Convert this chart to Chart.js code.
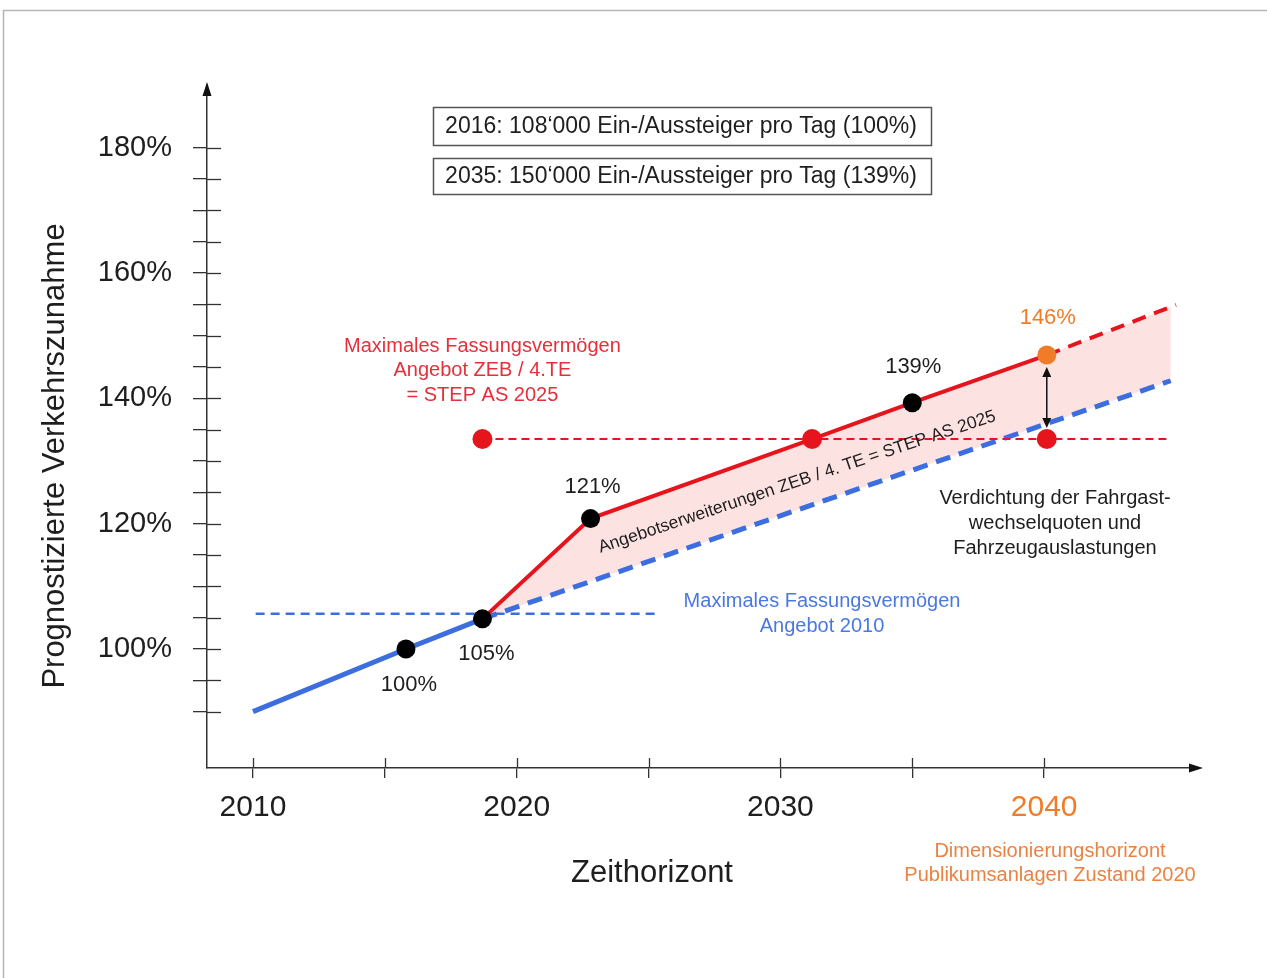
<!DOCTYPE html>
<html><head><meta charset="utf-8">
<script src="https://cdn.jsdelivr.net/npm/chart.js@4.4.1/dist/chart.umd.min.js"></script>
<style>html,body{margin:0;padding:0;background:#fff;overflow:hidden}canvas{display:block}</style>
</head><body><canvas id="c" width="1267" height="978"></canvas>
<script>
// ---- axis ticks ----
const tickYears = [2010, 2015, 2020, 2025, 2030, 2035, 2040];
const labelledYears = [2010, 2020, 2030, 2040];
const tickPercents = [90, 95, 100, 105, 110, 115, 120, 125, 130, 135, 140, 145, 150, 155, 160, 165, 170, 175, 180];
const labelledPercents = [100, 120, 140, 160, 180];

// ---- series ----
const observedYears = [2010, 2015.8, 2018.7];
const observedValues = [90, 100, 104.8];
const baselineYears = [2018.7, 2044.8];
const baselineValues = [104.8, 142.8];
const capacity2010Years = [2010.1, 2025.3];
const capacity2010Values = [105.6, 105.6];
const forecastYears = [2018.7, 2022.8, 2031.2, 2035.0, 2040.1, 2045.0];
const forecastValues = [104.8, 120.8, 133.5, 139.3, 146.9, 154.9];
const capacityZebYears = [2018.7, 2031.2, 2040.1, 2044.8];
const capacityZebValues = [133.5, 133.5, 133.5, 133.5];
const pointLabels = ['100%', '105%', '121%', '139%', '146%'];

const FONT = "'Liberation Sans', Arial, Helvetica, sans-serif";
const BLUE = '#3d6ee0', RED = '#e5141d', ORANGE = '#f07c28', PINK = '#fde2e2', INK = '#1e1e1e';
const xy = (xs, ys) => xs.map((v, i) => ({x: v, y: ys[i]}));

function txt(c, s, x, y, size, color, align = 'center', base = 'middle') {
  c.font = size + 'px ' + FONT; c.fillStyle = color; c.textAlign = align; c.textBaseline = base;
  c.fillText(s, x, y);
}

const decor = {
  id: 'decor',
  beforeDraw(chart) {
    const c = chart.ctx;
    c.save();
    c.fillStyle = '#fff'; c.fillRect(0, 0, chart.width, chart.height);
    c.strokeStyle = '#b5b5b5'; c.lineWidth = 1.5;
    c.strokeRect(3.5, 10.5, chart.width + 20, chart.height + 20);
    c.restore();
  },
  afterDraw(chart) {
    const c = chart.ctx, X = chart.scales.x, Y = chart.scales.y, a = chart.chartArea;
    c.save();
    // inward tick parts
    c.strokeStyle = '#333'; c.lineWidth = 1.3;
    tickPercents.forEach(v => { const p = Math.round(Y.getPixelForValue(v)) + 0.5; c.beginPath(); c.moveTo(a.left, p); c.lineTo(a.left + 14, p); c.stroke(); });
    tickYears.forEach(v => { const p = Math.round(X.getPixelForValue(v)) + 0.5; c.beginPath(); c.moveTo(p, a.bottom); c.lineTo(p, a.bottom - 10); c.stroke(); });
    // axis arrows
    c.fillStyle = '#111';
    c.beginPath(); c.moveTo(a.left, a.top - 3); c.lineTo(a.left - 4.5, a.top + 11); c.lineTo(a.left + 4.5, a.top + 11); c.closePath(); c.fill();
    c.beginPath(); c.moveTo(a.right + 3, a.bottom); c.lineTo(a.right - 11, a.bottom - 4.5); c.lineTo(a.right - 11, a.bottom + 4.5); c.closePath(); c.fill();

    // double arrow 2040
    const ax = X.getPixelForValue(forecastYears[4]);
    const yT = Y.getPixelForValue(forecastValues[4]) + 12;
    const yB = Y.getPixelForValue(capacityZebValues[2]) - 11;
    c.strokeStyle = '#111'; c.lineWidth = 1.5;
    c.beginPath(); c.moveTo(ax, yT + 6); c.lineTo(ax, yB - 6); c.stroke();
    c.beginPath(); c.moveTo(ax, yT); c.lineTo(ax - 4.5, yT + 10); c.lineTo(ax + 4.5, yT + 10); c.closePath(); c.fill();
    c.beginPath(); c.moveTo(ax, yB); c.lineTo(ax - 4.5, yB - 10); c.lineTo(ax + 4.5, yB - 10); c.closePath(); c.fill();

    // info boxes
    c.strokeStyle = '#555'; c.lineWidth = 1.5;
    c.strokeRect(433.5, 107.5, 498, 38);
    c.strokeRect(433.5, 158.5, 498, 36);
    txt(c, '2016: 108‘000 Ein-/Aussteiger pro Tag (100%)', 681, 127, 23, INK);
    txt(c, '2035: 150‘000 Ein-/Aussteiger pro Tag (139%)', 681, 177, 23, INK);

    // point labels
    const px = (i, xs, ys) => [X.getPixelForValue(xs[i]), Y.getPixelForValue(ys[i])];
    let p;
    p = px(1, observedYears, observedValues); txt(c, pointLabels[0], p[0] + 3, p[1] + 36, 22, INK);
    p = px(2, observedYears, observedValues); txt(c, pointLabels[1], p[0] + 4, p[1] + 35, 22, INK);
    p = px(1, forecastYears, forecastValues); txt(c, pointLabels[2], p[0] + 2, p[1] - 32, 22, INK);
    p = px(3, forecastYears, forecastValues); txt(c, pointLabels[3], p[0] + 1, p[1] - 36, 22, INK);
    p = px(4, forecastYears, forecastValues); txt(c, pointLabels[4], p[0] + 1, p[1] - 37, 22, ORANGE);

    // annotations
    const zx = X.getPixelForValue(capacityZebYears[0]);
    txt(c, 'Maximales Fassungsvermögen', zx, 346, 20, '#e3303a');
    txt(c, 'Angebot ZEB / 4.TE', zx, 370, 20, '#e3303a');
    txt(c, '= STEP AS 2025', zx, 395, 20, '#e3303a');

    txt(c, 'Maximales Fassungsvermögen', 822, 601, 20, '#4a78e2');
    txt(c, 'Angebot 2010', 822, 626, 20, '#4a78e2');

    txt(c, 'Verdichtung der Fahrgast-', 1055, 498, 20, INK);
    txt(c, 'wechselquoten und', 1055, 523, 20, INK);
    txt(c, 'Fahrzeugauslastungen', 1055, 548, 20, INK);

    txt(c, 'Dimensionierungshorizont', 1050, 851, 20, '#ec8240');
    txt(c, 'Publikumsanlagen Zustand 2020', 1050, 875, 20, '#ec8240');

    // rotated band label
    c.save(); c.translate(797, 482); c.rotate(-18.5 * Math.PI / 180);
    txt(c, 'Angebotserweiterungen ZEB / 4. TE = STEP AS 2025', 0, 0, 17.5, INK);
    c.restore();

    // axis titles
    txt(c, 'Zeithorizont', 652, 873, 31, INK);
    c.save(); c.translate(55, 456); c.rotate(-Math.PI / 2);
    txt(c, 'Prognostizierte Verkehrszunahme', 0, 0, 31, INK);
    c.restore();
    c.restore();
  }
};

const redPointColors = ['#000', '#000', RED, '#000', ORANGE, RED];
const redPointRadii = [0, 9.5, 10, 9.5, 9.5, 0];

new Chart(document.getElementById('c'), {
  type: 'line',
  data: {
    datasets: [
      { label: 'Ist', data: xy(observedYears, observedValues), borderColor: BLUE, borderWidth: 5,
        pointRadius: ctx => ctx.dataIndex === 0 ? 0 : 9.5, pointBackgroundColor: '#000', pointBorderWidth: 0,
        order: 1, fill: false, tension: 0 },
      { label: 'Prognose', data: xy(forecastYears, forecastValues), borderColor: RED, borderWidth: 4,
        segment: { borderDash: ctx => ctx.p0DataIndex >= 4 ? [14, 9] : undefined },
        pointRadius: ctx => redPointRadii[ctx.dataIndex], pointBackgroundColor: ctx => redPointColors[ctx.dataIndex],
        pointBorderWidth: 0, order: 2, tension: 0,
        fill: { target: 3 }, backgroundColor: PINK },
      { label: 'Kapazität ZEB', data: xy(capacityZebYears, capacityZebValues), borderColor: RED, borderWidth: 2,
        borderDash: [8, 5], pointRadius: ctx => (ctx.dataIndex === 0 || ctx.dataIndex === 2) ? 10 : 0,
        pointBackgroundColor: RED, pointBorderWidth: 0, order: 3, fill: false },
      { label: 'Trend', data: xy(baselineYears, baselineValues), borderColor: BLUE, borderWidth: 5,
        borderDash: [15, 9], pointRadius: 0, order: 4, fill: false },
      { label: 'Kapazität 2010', data: xy(capacity2010Years, capacity2010Values), borderColor: BLUE, borderWidth: 2.5,
        borderDash: [9, 6], pointRadius: 0, order: 5, fill: false }
    ]
  },
  options: {
    responsive: false, animation: false, devicePixelRatio: 1,
    layout: { padding: { top: 85, right: 67, left: 0, bottom: 0 } },
    plugins: { legend: { display: false }, tooltip: { enabled: false }, filler: { drawTime: 'beforeDatasetsDraw' } },
    scales: {
      x: {
        type: 'linear', min: 2008.256, max: 2045.91,
        afterBuildTicks: s => { s.ticks = tickYears.map(v => ({ value: v })); },
        afterFit: s => { s.height = 210; },
        border: { display: true, color: '#333', width: 1.5 },
        grid: { display: true, drawOnChartArea: false, drawTicks: true, tickLength: 10, color: '#333', lineWidth: 1.3 },
        ticks: {
          autoSkip: false, maxRotation: 0, padding: 12,
          font: { family: FONT, size: 30 },
          color: ctx => ctx.tick && ctx.tick.value === 2040 ? ORANGE : INK,
          callback: v => labelledYears.includes(v) ? String(v) : ''
        }
      },
      y: {
        type: 'linear', min: 81, max: 190,
        afterBuildTicks: s => { s.ticks = tickPercents.map(v => ({ value: v })); },
        afterFit: s => { s.width = 207; },
        border: { display: true, color: '#333', width: 1.5 },
        grid: { display: true, drawOnChartArea: false, drawTicks: true, tickLength: 14, color: '#333', lineWidth: 1.3 },
        ticks: {
          autoSkip: false, padding: 21,
          font: { family: FONT, size: 29 }, color: INK,
          callback: v => labelledPercents.includes(v) ? v + '%' : ''
        }
      }
    }
  },
  plugins: [decor]
});
</script></body></html>
